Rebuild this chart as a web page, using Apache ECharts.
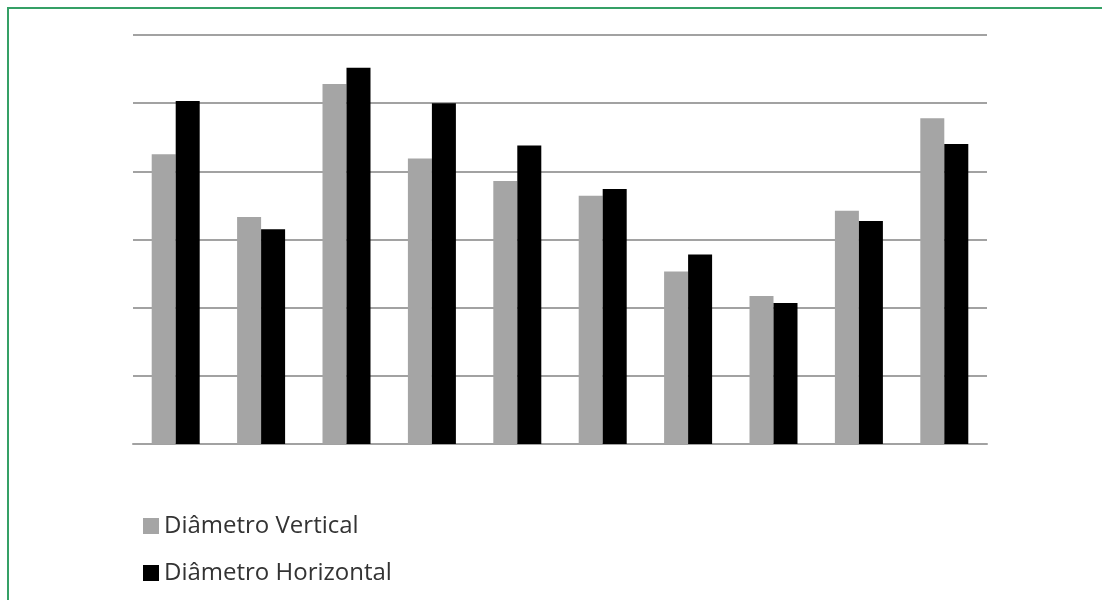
<!DOCTYPE html>
<html>
<head>
<meta charset="utf-8">
<script src="https://cdn.jsdelivr.net/npm/echarts@6/dist/echarts.min.js"></script>
<style>
  html, body { margin: 0; padding: 0; background: #fff; }
  #chart { width: 1102px; height: 600px; }
</style>
</head>
<body>
<div id="chart"></div>
<script>
// Ten measurement points, two diameters each
const categories = ['1', '2', '3', '4', '5', '6', '7', '8', '9', '10'];
const diametroVertical   = [4.25, 3.33, 5.28, 4.19, 3.86, 3.64, 2.53, 2.17, 3.42, 4.78];
const diametroHorizontal = [5.03, 3.15, 5.52, 5.00, 4.38, 3.74, 2.78, 2.07, 3.27, 4.40];
const seriesNames = ['Diâmetro Vertical', 'Diâmetro Horizontal'];
const yMin = 0, yMax = 6, yStep = 1;

const chart = echarts.init(document.getElementById('chart'), null, { renderer: 'canvas' });

const gridColor = '#a2a2a2';
const borderColor = '#35a066';
const legendText = { fontFamily: 'Open Sans', fontSize: 24, color: '#333333' };

chart.setOption({
  animation: false,
  backgroundColor: '#ffffff',
  grid: { left: 133, right: 115, top: 35, bottom: 156, containLabel: false },
  xAxis: {
    type: 'category',
    data: categories,
    axisLine: { show: true, lineStyle: { color: gridColor, width: 2 } },
    axisTick: { show: false },
    axisLabel: { show: false }
  },
  yAxis: {
    type: 'value',
    min: yMin,
    max: yMax,
    interval: yStep,
    axisLine: { show: false },
    axisTick: { show: false },
    axisLabel: { show: false },
    splitLine: { show: true, lineStyle: { color: gridColor, width: 2 } }
  },
  legend: [
    {
      orient: 'vertical', left: 138, top: 509,
      itemWidth: 16, itemHeight: 16, itemGap: 0,
      icon: 'rect', textStyle: legendText,
      data: [seriesNames[0]]
    },
    {
      orient: 'vertical', left: 138, top: 556,
      itemWidth: 16, itemHeight: 16, itemGap: 0,
      icon: 'rect', textStyle: legendText,
      data: [seriesNames[1]]
    }
  ],
  series: [
    {
      name: seriesNames[0], type: 'bar', data: diametroVertical,
      barWidth: 24, barGap: '0%',
      itemStyle: { color: '#a5a5a5' }
    },
    {
      name: seriesNames[1], type: 'bar', data: diametroHorizontal,
      barWidth: 24, barGap: '0%',
      itemStyle: { color: '#000000' }
    }
  ],
  graphic: [
    { type: 'line', shape: { x1: 7, y1: 8, x2: 1102, y2: 8 }, style: { stroke: borderColor, lineWidth: 2 }, silent: true },
    { type: 'line', shape: { x1: 8, y1: 7, x2: 8, y2: 600 }, style: { stroke: borderColor, lineWidth: 2 }, silent: true }
  ]
});
</script>
</body>
</html>
